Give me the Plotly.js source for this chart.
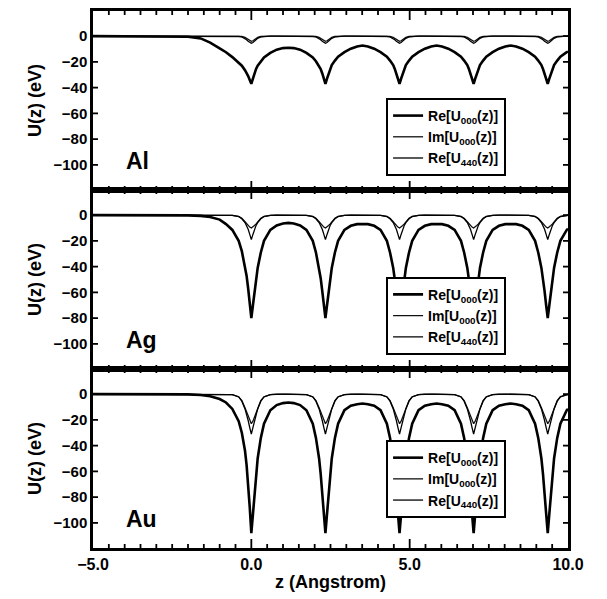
<!DOCTYPE html>
<html>
<head>
<meta charset="utf-8">
<script src="https://cdn.plot.ly/plotly-3.0.1.min.js"></script>
<style>html,body{margin:0;padding:0;background:#fff;}#chart{width:607px;height:599px;}</style>
</head>
<body>
<div id="chart"></div>
<script>
// z grid (Angstrom)
const z = [-5,-3,-2.5,-2,-1.6,-1.3,-1.0,-0.8,-0.6,-0.4,-0.3,-0.2,-0.15,-0.1,-0.05,0,
0.05,0.1,0.15,0.2,0.3,0.4,0.6,0.8,1.0,1.17,1.34,1.54,1.74,1.94,2.04,2.14,2.19,2.24,2.29,2.34,
2.39,2.44,2.49,2.54,2.64,2.74,2.94,3.14,3.34,3.51,3.68,3.88,4.08,4.28,4.38,4.48,4.53,4.58,4.63,4.68,
4.73,4.78,4.83,4.88,4.98,5.08,5.28,5.48,5.68,5.85,6.02,6.22,6.42,6.62,6.72,6.82,6.87,6.92,6.97,7.02,
7.07,7.12,7.17,7.22,7.32,7.42,7.62,7.82,8.02,8.19,8.36,8.56,8.76,8.96,9.06,9.16,9.21,9.26,9.31,9.36,
9.41,9.46,9.51,9.56,9.66,9.76,9.96,10.0];
// Al
const alRe = [0,0,0,-0.5,-1.8,-5,-9.5,-12.5,-16.3,-20.5,-23,-26.5,-28.5,-31,-34,-37,
-33,-29,-25.5,-23,-19.5,-16.5,-13,-10.5,-9.3,-9,-9.3,-10.5,-13,-16.5,-19.5,-23,-25.5,-29,-33,-37,
-33,-29,-25.5,-22.5,-19,-16,-12.5,-9.8,-8,-7.3,-8,-9.8,-12.5,-16,-19,-22.5,-25.5,-29,-33,-37,
-33,-29,-25.5,-22.5,-19,-16,-12.5,-9.8,-8,-7.3,-8,-9.8,-12.5,-16,-19,-22.5,-25.5,-29,-33,-37,
-33,-29,-25.5,-22.5,-19,-16,-12.5,-9.8,-8,-7.3,-8,-9.8,-12.5,-16,-19,-22.5,-25.5,-29,-33,-37,
-33,-29,-25.5,-22.5,-19,-16,-12.5,-12];
const alIm = [0,0,0,0,0,0,0,0,0,-0.1,-0.3,-1,-1.8,-2.8,-3.6,-4,
-3.6,-2.8,-1.8,-1,-0.3,-0.1,0,0,0,0,0,0,0,-0.1,-0.3,-1,-1.8,-2.8,-3.6,-4,
-3.6,-2.8,-1.8,-1,-0.3,-0.1,0,0,0,0,0,0,0,-0.1,-0.3,-1,-1.8,-2.8,-3.6,-4,
-3.6,-2.8,-1.8,-1,-0.3,-0.1,0,0,0,0,0,0,0,-0.1,-0.3,-1,-1.8,-2.8,-3.6,-4,
-3.6,-2.8,-1.8,-1,-0.3,-0.1,0,0,0,0,0,0,0,-0.1,-0.3,-1,-1.8,-2.8,-3.6,-4,
-3.6,-2.8,-1.8,-1,-0.3,-0.1,0,0];
const alRe440 = [0,0,0,0,0,0,0,0,0,-0.2,-0.6,-1.7,-2.8,-4,-5,-5.5,
-5,-4,-2.8,-1.7,-0.6,-0.2,0,0,0,0,0,0,0,-0.2,-0.6,-1.7,-2.8,-4,-5,-5.5,
-5,-4,-2.8,-1.7,-0.6,-0.2,0,0,0,0,0,0,0,-0.2,-0.6,-1.7,-2.8,-4,-5,-5.5,
-5,-4,-2.8,-1.7,-0.6,-0.2,0,0,0,0,0,0,0,-0.2,-0.6,-1.7,-2.8,-4,-5,-5.5,
-5,-4,-2.8,-1.7,-0.6,-0.2,0,0,0,0,0,0,0,-0.2,-0.6,-1.7,-2.8,-4,-5,-5.5,
-5,-4,-2.8,-1.7,-0.6,-0.2,0,0];
// Ag
const agRe = [0,0,0,-0.2,-0.6,-1.5,-3.5,-7,-11.5,-20,-28,-39,-47,-57,-68,-80,
-70,-59,-49,-41,-29,-20,-11.5,-8,-6.5,-6,-6.5,-8,-11.5,-20,-29,-41,-49,-59,-70,-80,
-70,-59,-49,-41,-29,-20,-11.5,-8.3,-7,-6.8,-7,-8.3,-11.5,-20,-29,-41,-49,-59,-70,-80,
-70,-59,-49,-41,-29,-20,-11.5,-8.3,-7,-6.8,-7,-8.3,-11.5,-20,-29,-41,-49,-59,-70,-80,
-70,-59,-49,-41,-29,-20,-11.5,-8.3,-7,-6.8,-7,-8.3,-11.5,-20,-29,-41,-49,-59,-70,-80,
-70,-59,-49,-41,-29,-20,-11.5,-10.5];
const agIm = [0,0,0,0,0,0,0,0,-0.2,-1,-2.5,-5.2,-6.8,-8,-9.3,-10,
-9.3,-8,-6.8,-5.2,-2.5,-1,-0.2,0,0,0,0,0,-0.2,-1,-2.5,-5.2,-6.8,-8,-9.3,-10,
-9.3,-8,-6.8,-5.2,-2.5,-1,-0.2,0,0,0,0,0,-0.2,-1,-2.5,-5.2,-6.8,-8,-9.3,-10,
-9.3,-8,-6.8,-5.2,-2.5,-1,-0.2,0,0,0,0,0,-0.2,-1,-2.5,-5.2,-6.8,-8,-9.3,-10,
-9.3,-8,-6.8,-5.2,-2.5,-1,-0.2,0,0,0,0,0,-0.2,-1,-2.5,-5.2,-6.8,-8,-9.3,-10,
-9.3,-8,-6.8,-5.2,-2.5,-1,-0.2,-0.1];
const agRe440 = [0,0,0,0,0,0,0,0,-0.2,-1.1,-2.8,-5.8,-8,-11,-15,-19,
-15,-11,-8,-5.8,-2.8,-1.1,-0.2,0,0,0,0,0,-0.2,-1.1,-2.8,-5.8,-8,-11,-15,-19,
-15,-11,-8,-5.8,-2.8,-1.1,-0.2,0,0,0,0,0,-0.2,-1.1,-2.8,-5.8,-8,-11,-15,-19,
-15,-11,-8,-5.8,-2.8,-1.1,-0.2,0,0,0,0,0,-0.2,-1.1,-2.8,-5.8,-8,-11,-15,-19,
-15,-11,-8,-5.8,-2.8,-1.1,-0.2,0,0,0,0,0,-0.2,-1.1,-2.8,-5.8,-8,-11,-15,-19,
-15,-11,-8,-5.8,-2.8,-1.1,-0.2,-0.1];
// Au
const auRe = [0,0,0,-0.2,-0.7,-1.6,-3.8,-6.5,-11.5,-21,-30,-44,-55,-70,-88,-108,
-93,-77,-62,-50,-34,-23,-12.5,-8.5,-7,-6.5,-7,-8.5,-12.5,-23,-34,-50,-62,-77,-93,-108,
-93,-77,-62,-50,-34,-23,-12.5,-9,-7.8,-7.3,-7.8,-9,-12.5,-23,-34,-50,-62,-77,-93,-108,
-93,-77,-62,-50,-34,-23,-12.5,-9,-7.8,-7.3,-7.8,-9,-12.5,-23,-34,-50,-62,-77,-93,-108,
-93,-77,-62,-50,-34,-23,-12.5,-9,-7.8,-7.3,-7.8,-9,-12.5,-23,-34,-50,-62,-77,-93,-108,
-93,-77,-62,-50,-34,-23,-12.5,-11.5];
const auIm = [0,0,0,0,0,0,0,0,-0.4,-2,-5,-10.5,-14,-17.5,-21,-23,
-21,-17.5,-14,-10.5,-5,-2,-0.4,0,0,0,0,0,-0.4,-2,-5,-10.5,-14,-17.5,-21,-23,
-21,-17.5,-14,-10.5,-5,-2,-0.4,0,0,0,0,0,-0.4,-2,-5,-10.5,-14,-17.5,-21,-23,
-21,-17.5,-14,-10.5,-5,-2,-0.4,0,0,0,0,0,-0.4,-2,-5,-10.5,-14,-17.5,-21,-23,
-21,-17.5,-14,-10.5,-5,-2,-0.4,0,0,0,0,0,-0.4,-2,-5,-10.5,-14,-17.5,-21,-23,
-21,-17.5,-14,-10.5,-5,-2,-0.4,-0.3];
const auRe440 = [0,0,0,0,0,0,0,0,-0.4,-2.2,-5.5,-11.5,-15.5,-20.5,-26,-31,
-26,-20.5,-15.5,-11.5,-5.5,-2.2,-0.4,0,0,0,0,0,-0.4,-2.2,-5.5,-11.5,-15.5,-20.5,-26,-31,
-26,-20.5,-15.5,-11.5,-5.5,-2.2,-0.4,0,0,0,0,0,-0.4,-2.2,-5.5,-11.5,-15.5,-20.5,-26,-31,
-26,-20.5,-15.5,-11.5,-5.5,-2.2,-0.4,0,0,0,0,0,-0.4,-2.2,-5.5,-11.5,-15.5,-20.5,-26,-31,
-26,-20.5,-15.5,-11.5,-5.5,-2.2,-0.4,0,0,0,0,0,-0.4,-2.2,-5.5,-11.5,-15.5,-20.5,-26,-31,
-26,-20.5,-15.5,-11.5,-5.5,-2.2,-0.4,-0.3];

const seriesNames = ['Re[U<sub>000</sub>(z)]', 'Im[U<sub>000</sub>(z)]', 'Re[U<sub>440</sub>(z)]'];
const panelLabels = ['Al', 'Ag', 'Au'];
const yTickVals = [0, -20, -40, -60, -80, -100];
const xMajorTicks = [0, 5];

const FONT = 'Liberation Sans, Arial, Helvetica, sans-serif';
const panels = [
  {data: [alRe, alIm, alRe440], xa: 'x3', ya: 'y3', leg: 'legend'},
  {data: [agRe, agIm, agRe440], xa: 'x2', ya: 'y2', leg: 'legend2'},
  {data: [auRe, auIm, auRe440], xa: 'x', ya: 'y', leg: 'legend3'}
];
const styles = [
  {color: '#000', width: 2.6},
  {color: '#111', width: 1.3},
  {color: '#000', width: 1.3}
];
const traces = [];
panels.forEach(p => p.data.forEach((ys, i) => traces.push({
  x: z, y: ys, type: 'scatter', mode: 'lines', name: seriesNames[i],
  xaxis: p.xa, yaxis: p.ya, legend: p.leg, line: styles[i]
})));

const shapes = [];
const PH = 179, PW = 475;
panels.forEach(p => {
  for (let k = 1; k < 30; k++) {
    const xv = -5 + k * 0.5;
    const len = (xMajorTicks.indexOf(xv) >= 0 ? 9 : 4) / PH;
    [[0, len], [1, 1 - len]].forEach(([a, c]) => shapes.push({
      type: 'line', xref: p.xa, yref: p.ya + ' domain', x0: xv, x1: xv, y0: a, y1: c,
      line: {color: '#000', width: 1.8}, layer: 'above'
    }));
  }
  yTickVals.forEach(yv => {
    const len = 5 / PW;
    [[0, len], [1, 1 - len]].forEach(([a, c]) => shapes.push({
      type: 'line', xref: p.xa + ' domain', yref: p.ya, x0: a, x1: c, y0: yv, y1: yv,
      line: {color: '#000', width: 1.8}, layer: 'above'
    }));
  });
});

function xax(anchor, showLabels) {
  return {
    domain: [0, 1], anchor: anchor, range: [-5, 10],
    showline: true, linewidth: 2.5, linecolor: '#000', mirror: true,
    ticks: '', tickmode: 'linear', tick0: -5, dtick: 5, tickformat: '.1f',
    showgrid: false, zeroline: false, showticklabels: showLabels,
    tickfont: {family: FONT, size: 16, color: '#000', weight: 'bold'}
  };
}
function yax(dom, anchor) {
  return {
    domain: dom, anchor: anchor, range: [-119.5, 19.5],
    showline: true, linewidth: 2.5, linecolor: '#000', mirror: true,
    ticks: '', tickmode: 'array', tickvals: yTickVals,
    showgrid: false, zeroline: false,
    tickfont: {family: FONT, size: 15, color: '#000', weight: 'bold'},
    title: {text: 'U(z) (eV)', font: {family: FONT, size: 18, color: '#000', weight: 'bold'}, standoff: 8}
  };
}
function leg(ytop) {
  return {
    x: 0.617, y: ytop, xanchor: 'left', yanchor: 'top', xref: 'paper', yref: 'paper',
    bgcolor: '#fff', bordercolor: '#000', borderwidth: 2,
    font: {family: FONT, size: 14, color: '#000', weight: 'bold'}, tracegroupgap: 0
  };
}
const annotations = panelLabels.map((t, i) => ({
  text: t, xref: panels[i].xa, yref: panels[i].ya,
  x: -4.02, y: -97, xanchor: 'left', yanchor: 'middle', showarrow: false,
  font: {family: FONT, size: 23, color: '#000', weight: 'bold'}
}));

const layout = {
  width: 607, height: 599, margin: {l: 93, r: 39, t: 11, b: 51},
  paper_bgcolor: '#fff', plot_bgcolor: '#fff', showlegend: true,
  xaxis: Object.assign(xax('y', true), {
    title: {text: 'z (Angstrom)', font: {family: FONT, size: 18, color: '#000', weight: 'bold'}, standoff: 4}
  }),
  xaxis2: xax('y2', false), xaxis3: xax('y3', false),
  yaxis: yax([0, 1/3], 'x'), yaxis2: yax([1/3, 2/3], 'x2'), yaxis3: yax([2/3, 1], 'x3'),
  legend: leg(0.838), legend2: leg(0.505), legend3: leg(0.201),
  annotations: annotations, shapes: shapes
};
Plotly.newPlot('chart', traces, layout, {displayModeBar: false});
</script>
</body>
</html>
